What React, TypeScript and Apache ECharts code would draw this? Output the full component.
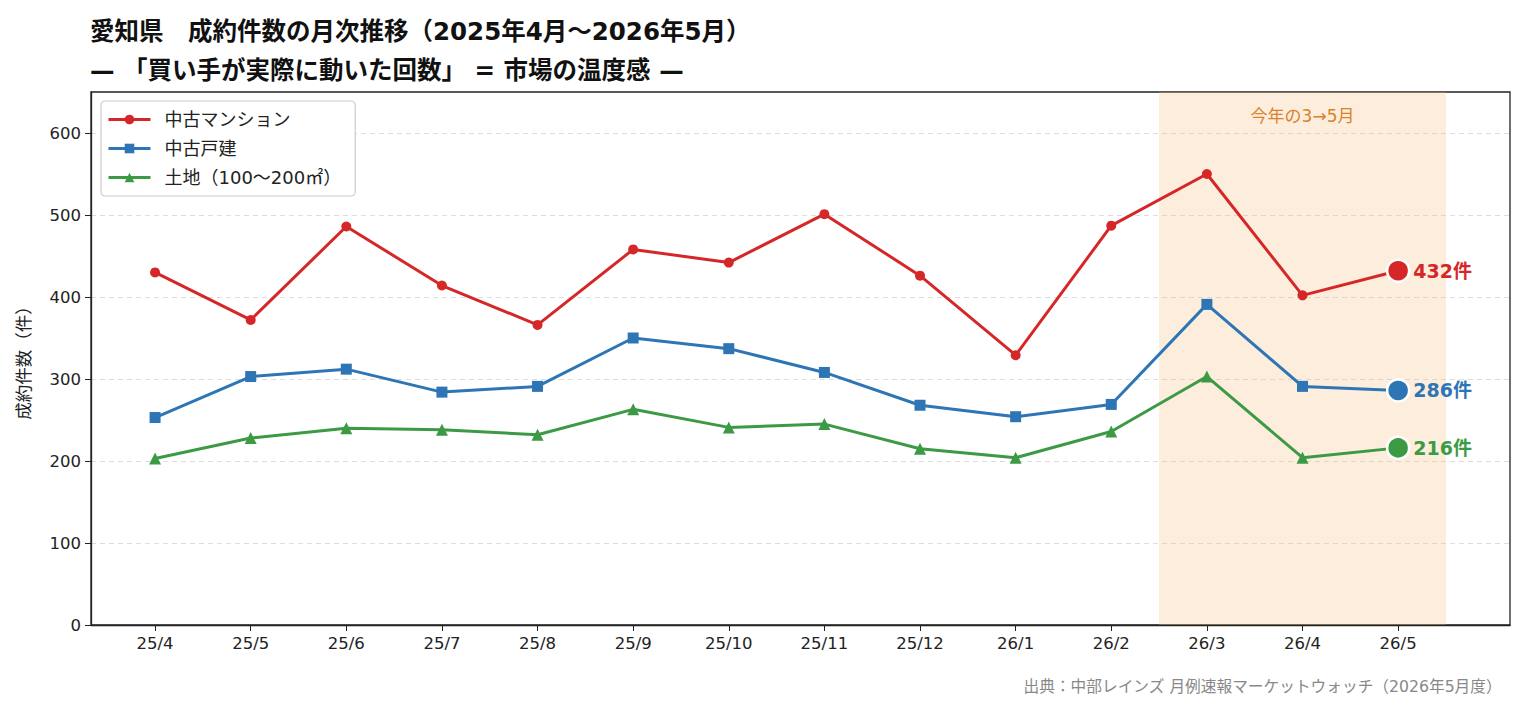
import React, { useEffect, useRef } from "react";
import * as echarts from "echarts";

const months = ["25/4", "25/5", "25/6", "25/7", "25/8", "25/9", "25/10", "25/11", "25/12", "26/1", "26/2", "26/3", "26/4", "26/5"];
const mansion = [430, 372, 486, 414, 366, 458, 442, 501, 426, 329, 487, 550, 402, 432];
const detached = [253, 303, 312, 284, 291, 350, 337, 308, 268, 254, 269, 391, 291, 286];
const land = [203, 228, 240, 238, 232, 263, 241, 245, 215, 204, 236, 303, 204, 216];
const yTicks = [0, 100, 200, 300, 400, 500, 600];

// Latin glyphs from DejaVu Sans, Japanese glyphs fall back to Noto Sans CJK JP
const FONT = "'DejaVu Sans', 'Noto Sans CJK JP', sans-serif";

function makeSeries(name: string, values: number[], color: string, symbol: string, size: number, extra: any = {}) {
  const last = values.length - 1;
  return {
    name,
    type: "line",
    symbol,
    symbolSize: size,
    color,
    lineStyle: { width: 3, color },
    itemStyle: { color },
    data: values.map((v, i) =>
      i === last
        ? {
            value: [i, v],
            symbol: "circle",
            symbolSize: 22,
            itemStyle: { color, borderColor: "#fff", borderWidth: 2.5 },
            label: {
              show: true,
              position: "right",
              distance: 3,
              formatter: `${v}件`,
              color,
              fontSize: 19,
              fontWeight: "bold",
              fontFamily: FONT,
            },
          }
        : [i, v]
    ),
    z: 3,
    ...extra,
  };
}

export default function App() {
  const ref = useRef<HTMLDivElement>(null);
  useEffect(() => {
    document.body.style.margin = "0";
    const chart = echarts.init(ref.current!, null, { renderer: "svg" });
    chart.setOption({
      animation: false,
      textStyle: { fontFamily: FONT },
      title: [
        {
          text: "愛知県　成約件数の月次推移（2025年4月〜2026年5月）",
          left: 90,
          top: 19,
          padding: 0,
          textStyle: { fontSize: 24.5, fontWeight: "bold", color: "#111", fontFamily: FONT },
        },
        {
          text: "— 「買い手が実際に動いた回数」 = 市場の温度感 —",
          left: 90,
          top: 58,
          padding: 0,
          textStyle: { fontSize: 24.5, fontWeight: "bold", color: "#111", fontFamily: FONT },
        },
      ],
      graphic: [
        {
          type: "text",
          right: 22,
          top: 679,
          style: { text: "出典：中部レインズ 月例速報マーケットウォッチ（2026年5月度）", fill: "#888", fontSize: 15.7, fontFamily: FONT },
        },
      ],
      legend: {
        orient: "vertical",
        left: 101,
        top: 101,
        padding: [9, 14, 9, 6],
        itemGap: 10,
        itemWidth: 42,
        itemHeight: 12,
        backgroundColor: "#fff",
        borderColor: "#ccc",
        borderWidth: 1.2,
        borderRadius: 4,
        lineStyle: { width: 3 },
        textStyle: { fontSize: 18, lineHeight: 19, color: "#222", fontFamily: FONT, padding: [0, 0, 0, 9] },
        data: ["中古マンション", "中古戸建", "土地（100〜200㎡）"],
      },
      grid: {
        left: 91,
        right: 14,
        top: 92,
        bottom: 85,
        show: true,
        borderColor: "#222",
        borderWidth: 1.3,
        containLabel: false,
      },
      xAxis: {
        type: "value",
        min: -0.67,
        max: 14.17,
        splitLine: { show: false },
        axisLine: { onZero: false, lineStyle: { color: "#222", width: 1.3 } },
        axisTick: { show: true, length: 6, customValues: months.map((_, i) => i), lineStyle: { color: "#222" } },
        axisLabel: {
          customValues: months.map((_, i) => i),
          formatter: (v: number) => months[Math.round(v)] ?? "",
          fontSize: 16.5,
          color: "#222",
          margin: 10,
          fontFamily: FONT,
        },
      },
      yAxis: {
        type: "value",
        min: 0,
        max: 650,
        interval: 100,
        name: "成約件数（件）",
        nameLocation: "middle",
        nameGap: 58,
        nameTextStyle: { fontSize: 17.5, color: "#222", fontFamily: FONT },
        axisLine: { show: true, onZero: false, lineStyle: { color: "#222", width: 1.3 } },
        axisTick: { show: true, length: 6, customValues: yTicks, lineStyle: { color: "#222" } },
        axisLabel: { customValues: yTicks, fontSize: 16.5, color: "#222", margin: 10, fontFamily: FONT },
        splitLine: { show: true, lineStyle: { color: "#ddd", type: [5, 4], width: 1.2 } },
      },
      series: [
        makeSeries("中古マンション", mansion, "#d62728", "circle", 10, {
          markArea: {
            silent: true,
            itemStyle: { color: "rgba(245,190,130,0.28)" },
            label: {
              show: true,
              position: "insideTop",
              distance: 15,
              color: "#d9822b",
              fontSize: 17,
              fontFamily: FONT,
            },
            data: [[{ name: "今年の3→5月", xAxis: 10.5 }, { xAxis: 13.5 }]],
          },
        }),
        makeSeries("中古戸建", detached, "#2e75b6", "rect", 11),
        makeSeries("土地（100〜200㎡）", land, "#3c9a44", "triangle", 12),
      ],
    });
    return () => chart.dispose();
  }, []);
  return <div ref={ref} style={{ width: 1524, height: 710 }} />;
}
